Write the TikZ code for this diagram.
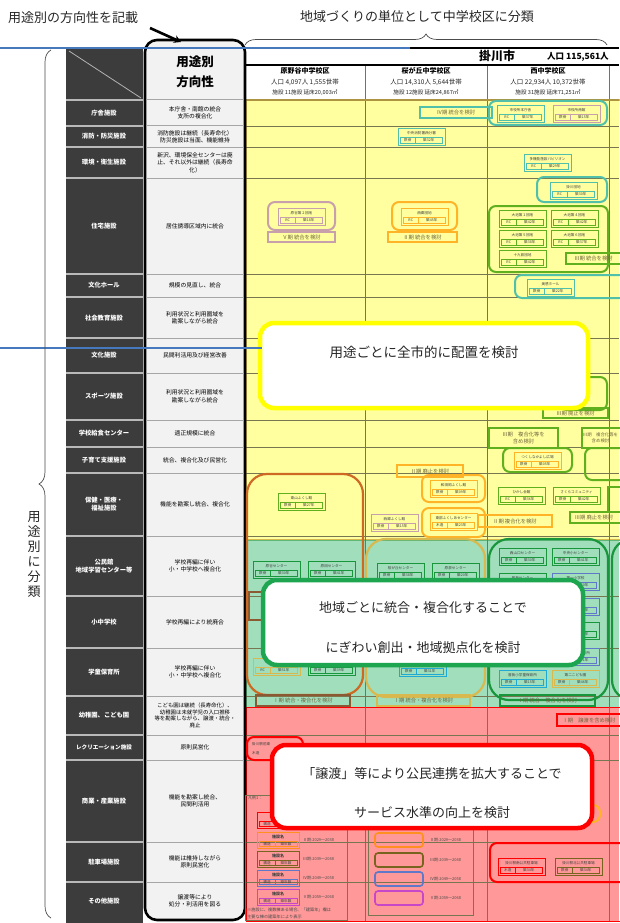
\documentclass[tikz,border=0pt]{standalone}
\usepackage{fontspec}
\setmainfont{Noto Sans CJK JP}
\newfontfamily\jp{Noto Sans CJK JP}
\usetikzlibrary{decorations.pathreplacing,arrows.meta}
\definecolor{darkcol}{RGB}{60,60,60}
\definecolor{midcol}{RGB}{242,242,242}
\definecolor{ybg}{RGB}{255,255,160}
\definecolor{gbg}{RGB}{160,222,188}
\definecolor{rbg}{RGB}{255,152,152}
\definecolor{gridc}{RGB}{120,118,80}
\definecolor{teal}{RGB}{80,192,170}
\definecolor{pinkb}{RGB}{200,160,172}
\definecolor{orng}{RGB}{255,180,40}
\definecolor{grn}{RGB}{95,175,30}
\definecolor{brorange}{RGB}{205,105,35}
\definecolor{brownb}{RGB}{140,90,50}
\definecolor{olive}{RGB}{215,185,80}
\definecolor{oliveb}{RGB}{120,100,30}
\definecolor{dkgreen}{RGB}{25,150,60}
\definecolor{blueb}{RGB}{95,120,200}
\definecolor{cyanb}{RGB}{30,170,210}
\definecolor{magb}{RGB}{200,70,200}
\definecolor{cyel}{RGB}{255,255,0}
\definecolor{cgrn}{RGB}{30,165,80}
\definecolor{cred}{RGB}{255,0,0}
\definecolor{blueline}{RGB}{70,120,190}
\definecolor{phtext}{RGB}{110,100,60}
\tikzset{
 base/.style={font=\jp, inner sep=0pt, align=center},
 cat/.style={base, text=white, font=\jp\bfseries\fontsize{6.3}{8}\selectfont},
 dirt/.style={base, text=black, font=\jp\fontsize{5.8}{7.4}\selectfont, text width=96pt},
 tinyt/.style={base, font=\jp\fontsize{3.6}{4.4}\selectfont, text=black!75},
 pht/.style={base, font=\jp\fontsize{5.3}{6.5}\selectfont, text=phtext},
 ctext/.style={base, font=\jp\fontsize{13}{15}\selectfont, text=black!85},
 hdr/.style={base, font=\jp\fontsize{6.5}{8}\selectfont, text=black!85},
 lgt/.style={base, font=\jp\fontsize{4}{5}\selectfont, text=black!70, anchor=west},
 grp/.style={line width=2pt, rounded corners=7pt},
 bgrp/.style={line width=2.2pt, rounded corners=20pt},
}
\newcommand\facbox[7]{%
 \node[draw=#4, line width=1.2pt, minimum width=47pt, minimum height=17pt, anchor=north west, inner sep=0pt] (#1) at (#2,#3) {};
 \draw[#4, line width=0.5pt] ({#2+2.5},{#3+9}) rectangle ({#2+44.5},{#3+15});
 \draw[#4, line width=0.5pt] ({#2+17},{#3+9}) -- ({#2+17},{#3+15});
 \node[tinyt] (#1n) at ({#2+23.5},{#3+4.8}) {#5};
 \node[tinyt] (#1s) at ({#2+9.75},{#3+12}) {#6};
 \node[tinyt] (#1a) at ({#2+30.75},{#3+12}) {#7};
}
\newcommand\phaselbl[7]{%
 \draw[#6, line width=1.6pt] (#2,#3) rectangle (#4,#5);
 \node[pht] (#1) at ({(#2+#4)/2},{(#3+#5)/2}) {#7};
}
\newcommand\legbox[4]{%
 \node[draw=#4, line width=1.2pt, minimum width=42pt, minimum height=16pt, anchor=north west, inner sep=0pt] (#1) at (#2,#3) {};
 \draw[#4, line width=0.5pt] ({#2+2},{#3+9}) rectangle ({#2+40},{#3+14.5});
 \draw[#4, line width=0.5pt] ({#2+18},{#3+9}) -- ({#2+18},{#3+14.5});
 \node[tinyt, font=\jp\bfseries\fontsize{4}{5}\selectfont] (#1n) at ({#2+21},{#3+4.5}) {施設名};
 \node[tinyt] (#1s) at ({#2+10},{#3+11.8}) {構造};
 \node[tinyt] (#1a) at ({#2+29},{#3+11.8}) {築年数};
}
\begin{document}
\begin{tikzpicture}[x=1pt,y=-1pt]
\useasboundingbox[fill=white] (0,0) rectangle (619,923);

% ---- right area fills ----
\fill[ybg] (245,100) rectangle (619,540);
\fill[gbg] (245,540) rectangle (619,707);
\fill[rbg] (245,707) rectangle (619,921);
\draw[olive, line width=1.5pt] (246,100) rectangle (625,540);
\draw[dkgreen!70, line width=1pt] (246,540) rectangle (625,707);
\draw[cred, line width=1pt] (246,707) rectangle (625,921);

% ---- grid ----
\foreach \yy in {126,147,178,274,297,338,373,420,447,473,536,596,648,696,735,760,842,882}{
  \draw[gridc, line width=0.7pt] (245,\yy) -- (619,\yy);
}
\foreach \xx in {365,487,609}{
  \draw[gridc, line width=0.8pt] (\xx,65) -- (\xx,921);
}
\draw[black, line width=1.2pt] (245,48) -- (619,48);
\draw[black, line width=1.2pt] (245,65) -- (619,65);
\draw[olive!80!black, line width=1.3pt] (245,100) -- (619,100);

% ---- header texts ----
\node[base, font=\jp\bfseries\fontsize{12}{14}\selectfont] (city) at (497,56) {掛川市};
\node[base, font=\jp\bfseries\fontsize{8.5}{10}\selectfont, anchor=west] (citypop) at (547,57) {人口 115,561人};
\node[base, font=\jp\bfseries\fontsize{7}{8}\selectfont] (h1) at (305,71) {原野谷中学校区};
\node[hdr] (h1a) at (305,82) {人口 4,097人 1,555世帯};
\node[hdr, font=\jp\fontsize{5.6}{7}\selectfont] (h1b) at (305,93) {施設 11施設 延床20,003㎡};
\node[base, font=\jp\bfseries\fontsize{7}{8}\selectfont] (h2) at (426,71) {桜が丘中学校区};
\node[hdr] (h2a) at (426,82) {人口 14,310人 5,644世帯};
\node[hdr, font=\jp\fontsize{5.6}{7}\selectfont] (h2b) at (426,93) {施設 12施設 延床24,867㎡};
\node[base, font=\jp\bfseries\fontsize{7}{8}\selectfont] (h3) at (548,71) {西中学校区};
\node[hdr] (h3a) at (548,82) {人口 22,934人 10,372世帯};
\node[hdr, font=\jp\fontsize{5.6}{7}\selectfont] (h3b) at (548,93) {施設 31施設 延床71,251㎡};

% ---- dark category column ----
\fill[darkcol] (66,48) rectangle (143,923);
\draw[gray!60, line width=0.8pt] (69,51) -- (141,98);
\foreach \yy in {100,126,147,178,274,297,338,373,420,447,473,536,596,648,696,735,760,842,882}{
  \draw[gray!55, line width=2pt] (66,\yy) -- (143,\yy);
}
\node[cat] (c1) at (104,113) {庁舎施設};
\node[cat] (c2) at (104,136.5) {消防・防災施設};
\node[cat] (c3) at (104,162.5) {環境・衛生施設};
\node[cat] (c4) at (104,226) {住宅施設};
\node[cat] (c5) at (104,285.5) {文化ホール};
\node[cat] (c6) at (104,318) {社会教育施設};
\node[cat] (c7) at (104,355.5) {文化施設};
\node[cat] (c8) at (104,396.5) {スポーツ施設};
\node[cat] (c9) at (104,433.5) {学校給食センター};
\node[cat] (c10) at (104,460) {子育て支援施設};
\node[cat] (c11) at (104,504.5) {保健・医療・\\福祉施設};
\node[cat] (c12) at (104,566) {公民館\\地域学習センター等};
\node[cat] (c13) at (104,622) {小中学校};
\node[cat] (c14) at (104,672) {学童保育所};
\node[cat] (c15) at (104,715.5) {幼稚園、こども園};
\node[cat, font=\jp\bfseries\fontsize{5.6}{7}\selectfont] (c16) at (104,747.5) {レクリエーション施設};
\node[cat] (c17) at (104,801) {商業・産業施設};
\node[cat] (c18) at (104,862) {駐車場施設};
\node[cat] (c19) at (104,901) {その他施設};

% ---- middle direction column ----
\draw[black, line width=2.6pt, fill=midcol, rounded corners=12pt] (145,40) rectangle (245,920);
\foreach \yy in {100,126,147,178,274,297,338,373,420,447,473,536,596,648,696,735,760,842,882}{
  \draw[gray!70, line width=1pt] (146.5,\yy) -- (243.5,\yy);
}
\node[base, font=\jp\bfseries\fontsize{12.5}{20}\selectfont] (hd) at (195,72) {用途別\\方向性};
\node[dirt] (d1) at (195,113) {本庁舎・南館の統合\\支所の複合化};
\node[dirt] (d2) at (195,136.5) {消防施設は継続（長寿命化）\\防災施設は当面、機能維持};
\node[dirt] (d3) at (195,162.5) {新沢、環境保全センターは廃\\止、それ以外は継続（長寿命\\化）};
\node[dirt] (d4) at (195,226) {居住誘導区域内に統合};
\node[dirt] (d5) at (195,285.5) {規模の見直し、統合};
\node[dirt] (d6) at (195,318) {利用状況と利用圏域を\\勘案しながら統合};
\node[dirt] (d7) at (195,355.5) {民間利活用及び経営改善};
\node[dirt] (d8) at (195,396.5) {利用状況と利用圏域を\\勘案しながら統合};
\node[dirt] (d9) at (195,433.5) {適正規模に統合};
\node[dirt] (d10) at (195,460) {統合、複合化及び民営化};
\node[dirt] (d11) at (195,504.5) {機能を勘案し統合、複合化};
\node[dirt] (d12) at (195,566) {学校再編に伴い\\小・中学校へ複合化};
\node[dirt] (d13) at (195,622) {学校再編により統廃合};
\node[dirt] (d14) at (195,672) {学校再編に伴い\\小・中学校へ複合化};
\node[dirt, font=\jp\fontsize{5.4}{6.8}\selectfont] (d15) at (195,715.5) {こども園は継続（長寿命化）、\\幼稚園は未就学児の入口推移\\等を勘案しながら、譲渡・統合・\\廃止};
\node[dirt] (d16) at (195,747.5) {原則民営化};
\node[dirt] (d17) at (195,801) {機能を勘案し統合、\\民間利活用};
\node[dirt] (d18) at (195,862) {機能は維持しながら\\原則民営化};
\node[dirt] (d19) at (195,901) {譲渡等により\\処分・利活用を図る};

% ---- yellow zone facilities ----
\phaselbl{p1}{420}{107}{492}{118}{teal}{Ⅳ期 統合を検討}
\draw[teal, grp] (489,101) rectangle (607,125);
\facbox{f1}{497}{105}{teal}{市役所本庁舎}{RC}{築37年}
\facbox{f2}{553}{105}{pinkb}{市役所南館}{鉄骨}{築15年}
\facbox{f3}{398}{128}{teal}{中央消防署西分署}{鉄骨}{築32年}
\facbox{f4}{524}{154}{teal}{多機能施設パビリオン}{RC}{築29年}
\draw[teal, grp] (537,177) rectangle (607,202);
\facbox{f5}{550}{182}{teal}{掛川団地}{RC}{築30年}
\draw[pinkb, grp] (268,202) rectangle (335,230);
\facbox{f6}{278}{208}{pinkb}{原谷第２団地}{RC}{築18年}
\phaselbl{p2}{268}{232}{335}{242}{pinkb}{Ⅴ期 統合を検討}
\draw[orng, grp] (392,202) rectangle (457,230);
\facbox{f7}{401}{208}{orng}{西郷団地}{RC}{築45年}
\phaselbl{p3}{388}{232}{457}{242}{orng}{Ⅱ期 統合を検討}
\draw[grn, grp] (489,206) rectangle (608,272);
\facbox{f8}{499}{210}{grn}{大池第１団地}{RC}{築42年}
\facbox{f9}{551}{210}{grn}{大池第４団地}{RC}{築42年}
\facbox{f10}{499}{230}{grn}{大池第５団地}{RC}{築38年}
\facbox{f11}{551}{230}{grn}{大池第６団地}{RC}{築37年}
\facbox{f12}{499}{250}{grn}{十九首団地}{RC}{築42年}
\phaselbl{p4}{566}{253}{621}{264}{grn}{Ⅲ期 統合を検討}
\draw[teal, grp] (515,275) rectangle (630,298);
\facbox{f13}{527}{279}{teal}{美感ホール}{鉄骨}{築22年}

\draw[grn, grp] (560,377) rectangle (607,410);
\phaselbl{p5}{543}{408}{608}{418}{grn}{Ⅲ期 廃止を検討}
\phaselbl{p6}{489}{428}{558}{448}{grn}{Ⅲ期　複合化等を\\含め検討}
\draw[grn, grp] (503,448) rectangle (572,472);
\facbox{f14}{514}{452}{orng}{つくしなかよし広場}{鉄骨}{築05年}
\draw[grn, line width=1.6pt] (582,428) rectangle (640,448);
\node[pht, font=\jp\fontsize{4.4}{5.6}\selectfont] (p7) at (600.5,438) {Ⅲ期　複合化等を\\含め検討};
\draw[grn, grp] (585,448) rectangle (640,480);
\facbox{f15}{498}{487}{grn}{ひかし会館}{RC}{築36年}
\facbox{f16}{553}{487}{grn}{さくらコミュニティ}{鉄骨}{築42年}
\draw[grn, line width=1.6pt] (608,487) rectangle (630,512);
\draw[grn, line width=1.6pt] (570,512) rectangle (640,523);
\node[pht] (p8) at (594,517.5) {Ⅲ期 廃止を検討};
\phaselbl{p9}{397}{465}{463}{477}{orng}{Ⅱ期 廃止を検討}
\draw[orng, grp] (422,475) rectangle (485,502);
\facbox{f17}{430}{480}{orng}{和田岡ふくし館}{鉄骨}{築09年}
\draw[orng, grp] (422,508) rectangle (485,537);
\facbox{f18}{430}{513}{orng}{東部ふくしあセンター}{木造}{築23年}
\phaselbl{p10}{478}{515}{552}{527}{orng}{Ⅱ期 複合化を検討}
\facbox{f19}{371}{514}{pinkb}{西郷ふくし館}{鉄骨}{築15年}
\draw[brorange, bgrp] (247,474) rectangle (363,695);
\facbox{f20}{278}{493}{grn}{東山ふくし館}{鉄骨}{築27年}

% ---- green zone facilities ----
\facbox{f21}{253}{561}{dkgreen}{原谷センター}{鉄骨}{築30年}
\facbox{f22}{308}{561}{dkgreen}{原田センター}{鉄骨}{築41年}
\draw[brownb, line width=1.6pt] (249,592) rectangle (275,620);
\facbox{f23}{253}{658}{olive}{原谷幼稚園}{RC}{築51年}
\facbox{f24}{308}{658}{dkgreen}{原田学童保育所}{鉄骨}{築39年}
\phaselbl{p11}{256}{695}{350}{706}{brownb}{Ⅰ期 統合・複合化を検討}
\draw[olive, bgrp] (366,539) rectangle (485,697);
\facbox{f25}{377}{563}{dkgreen}{桜が丘センター}{鉄骨}{築38年}
\facbox{f26}{432}{563}{dkgreen}{原泉センター}{鉄骨}{築20年}
\facbox{f27}{399}{659}{cyanb}{桜が丘学童保育所}{鉄骨}{築31年}
\phaselbl{p12}{377}{695}{470}{706}{olive}{Ⅰ期 統合・複合化を検討}
\draw[dkgreen, bgrp] (489,539) rectangle (608,700);
\facbox{f28}{499}{548}{dkgreen}{西山口センター}{鉄骨}{築30年}
\facbox{f29}{552}{548}{dkgreen}{中央小センター}{鉄骨}{築41年}
\facbox{f30}{499}{573}{dkgreen}{曽我センター}{鉄骨}{築35年}
\facbox{f31}{552}{573}{blueb}{第一小学校}{RC}{築50年}
\facbox{f35}{552}{598}{blueb}{第二小学校}{RC}{築48年}
\facbox{f36}{552}{622}{dkgreen}{西中学校}{RC}{築45年}
\facbox{f32}{552}{648}{blueb}{中央小学童保育所}{鉄骨}{築21年}
\facbox{f33}{499}{670}{cyanb}{曽我小学童保育所}{鉄骨}{築15年}
\facbox{f34}{552}{670}{olive}{第二こども園}{鉄骨}{築46年}
\phaselbl{p13}{500}{695}{595}{706}{dkgreen}{Ⅰ期 統合・複合化を検討}
\draw[dkgreen, bgrp] (612,539) rectangle (660,700);

% ---- red zone ----
\phaselbl{p14}{557}{714}{621}{726}{cred}{Ⅰ期　譲渡を含め検討}
\draw[cred, grp] (247,737) rectangle (303,760);
\node[tinyt, anchor=west] (f37n) at (252,744) {掛川駅前東};
\node[tinyt, anchor=west] (f37s) at (252,753) {木造};
\draw[orng, grp] (560,805) rectangle (600,822);
% legend 1
\draw[gridc, line width=0.7pt] (245,795) rectangle (347,920);
\node[lgt] (lg1) at (248,798) {凡例1：};
\legbox{L1}{257}{812}{cred}
\legbox{L2}{257}{832}{orng!80!red}
\legbox{L3}{257}{851}{oliveb}
\legbox{L4}{257}{870}{blueb}
\legbox{L5}{257}{889}{magb}
\node[lgt] (lt1) at (303,820) {Ⅰ期:2019～2028};
\node[lgt] (lt2) at (303,840) {Ⅱ期:2029～2038};
\node[lgt] (lt3) at (303,859) {Ⅲ期:2039～2048};
\node[lgt] (lt4) at (303,878) {Ⅳ期:2049～2058};
\node[lgt] (lt5) at (303,897) {Ⅴ期:2059～2068};
\node[lgt, font=\jp\fontsize{4.2}{5}\selectfont] (lnote1) at (247,910) {※施設に、複数棟ある場合、「建築年」欄は};
\node[lgt, font=\jp\fontsize{4.2}{5}\selectfont] (lnote2) at (247,917) {主要な棟の建築年により表示};
% legend 2
\draw[gridc, line width=0.7pt] (368,780) rectangle (473,915);
\foreach \yy/\cc/\tt in {813/cred/Ⅰ期:2019～2028, 833/orng!80!red/Ⅱ期:2029～2038, 853/oliveb/Ⅲ期:2039～2048, 872/blueb/Ⅳ期:2049～2058, 891/magb/Ⅴ期:2059～2068}{
  \draw[\cc, line width=1.6pt, rounded corners=3pt] (375,\yy) rectangle (423,\yy+14);
  \node[lgt] at (430,\yy+7) {\tt};
}
% right red group
\draw[cred, grp] (490,843) rectangle (640,882);
\facbox{f38}{498}{858}{cred}{掛川駅南公共駐車場}{木造}{築34年}
\facbox{f39}{555}{858}{oliveb}{掛川駅北公共駐車場}{鉄骨}{築34年}

% ---- callouts ----
\draw[cyel, line width=4.5pt, fill=white, rounded corners=14pt] (260,323) rectangle (588,408);
\node[ctext, font=\jp\fontsize{13.5}{15}\selectfont] (co1) at (424,352) {用途ごとに全市的に配置を検討};
\draw[cgrn, line width=4.5pt, fill=white, rounded corners=14pt] (263,580) rectangle (583,665);
\node[ctext] (co2a) at (423,608) {地域ごとに統合・複合化することで};
\node[ctext] (co2b) at (423,648) {にぎわい創出・地域拠点化を検討};
\draw[cred, line width=4.5pt, fill=white, rounded corners=14pt] (272,745) rectangle (592,828);
\node[ctext] (co3a) at (432,774) {「譲渡」等により公民連携を拡大することで};
\node[ctext] (co3b) at (432,813) {サービス水準の向上を検討};

% ---- annotations ----
\draw[blueline, line width=1.3pt] (0,48) -- (410,48);
\draw[blueline, line width=1.3pt] (0,348) -- (262,348);
\node[base, font=\jp\fontsize{13}{15}\selectfont, anchor=west, text=black!85] (lab1) at (8,18) {用途別の方向性を記載};
\coordinate (arS) at (150,28);
\coordinate (arE) at (181,42);
\draw[black, line width=2.6pt, -{Stealth[length=7pt,width=8pt]}] (arS) -- (arE);
\node[base, font=\jp\fontsize{13}{15}\selectfont, text=black!85] (lab2) at (417,17) {地域づくりの単位として中学校区に分類};
\draw[black!70, line width=0.7pt, decorate, decoration={brace, amplitude=11pt}] (245,45) -- (607,45);
\draw[black!70, line width=0.7pt, decorate, decoration={brace, amplitude=12pt}] (51,918) -- (51,50);
\node[base, font=\jp\fontsize{13}{15}\selectfont, text=black!85] (lab3) at (34,555) {用\\途\\別\\に\\分\\類};
\end{tikzpicture}
\end{document}
